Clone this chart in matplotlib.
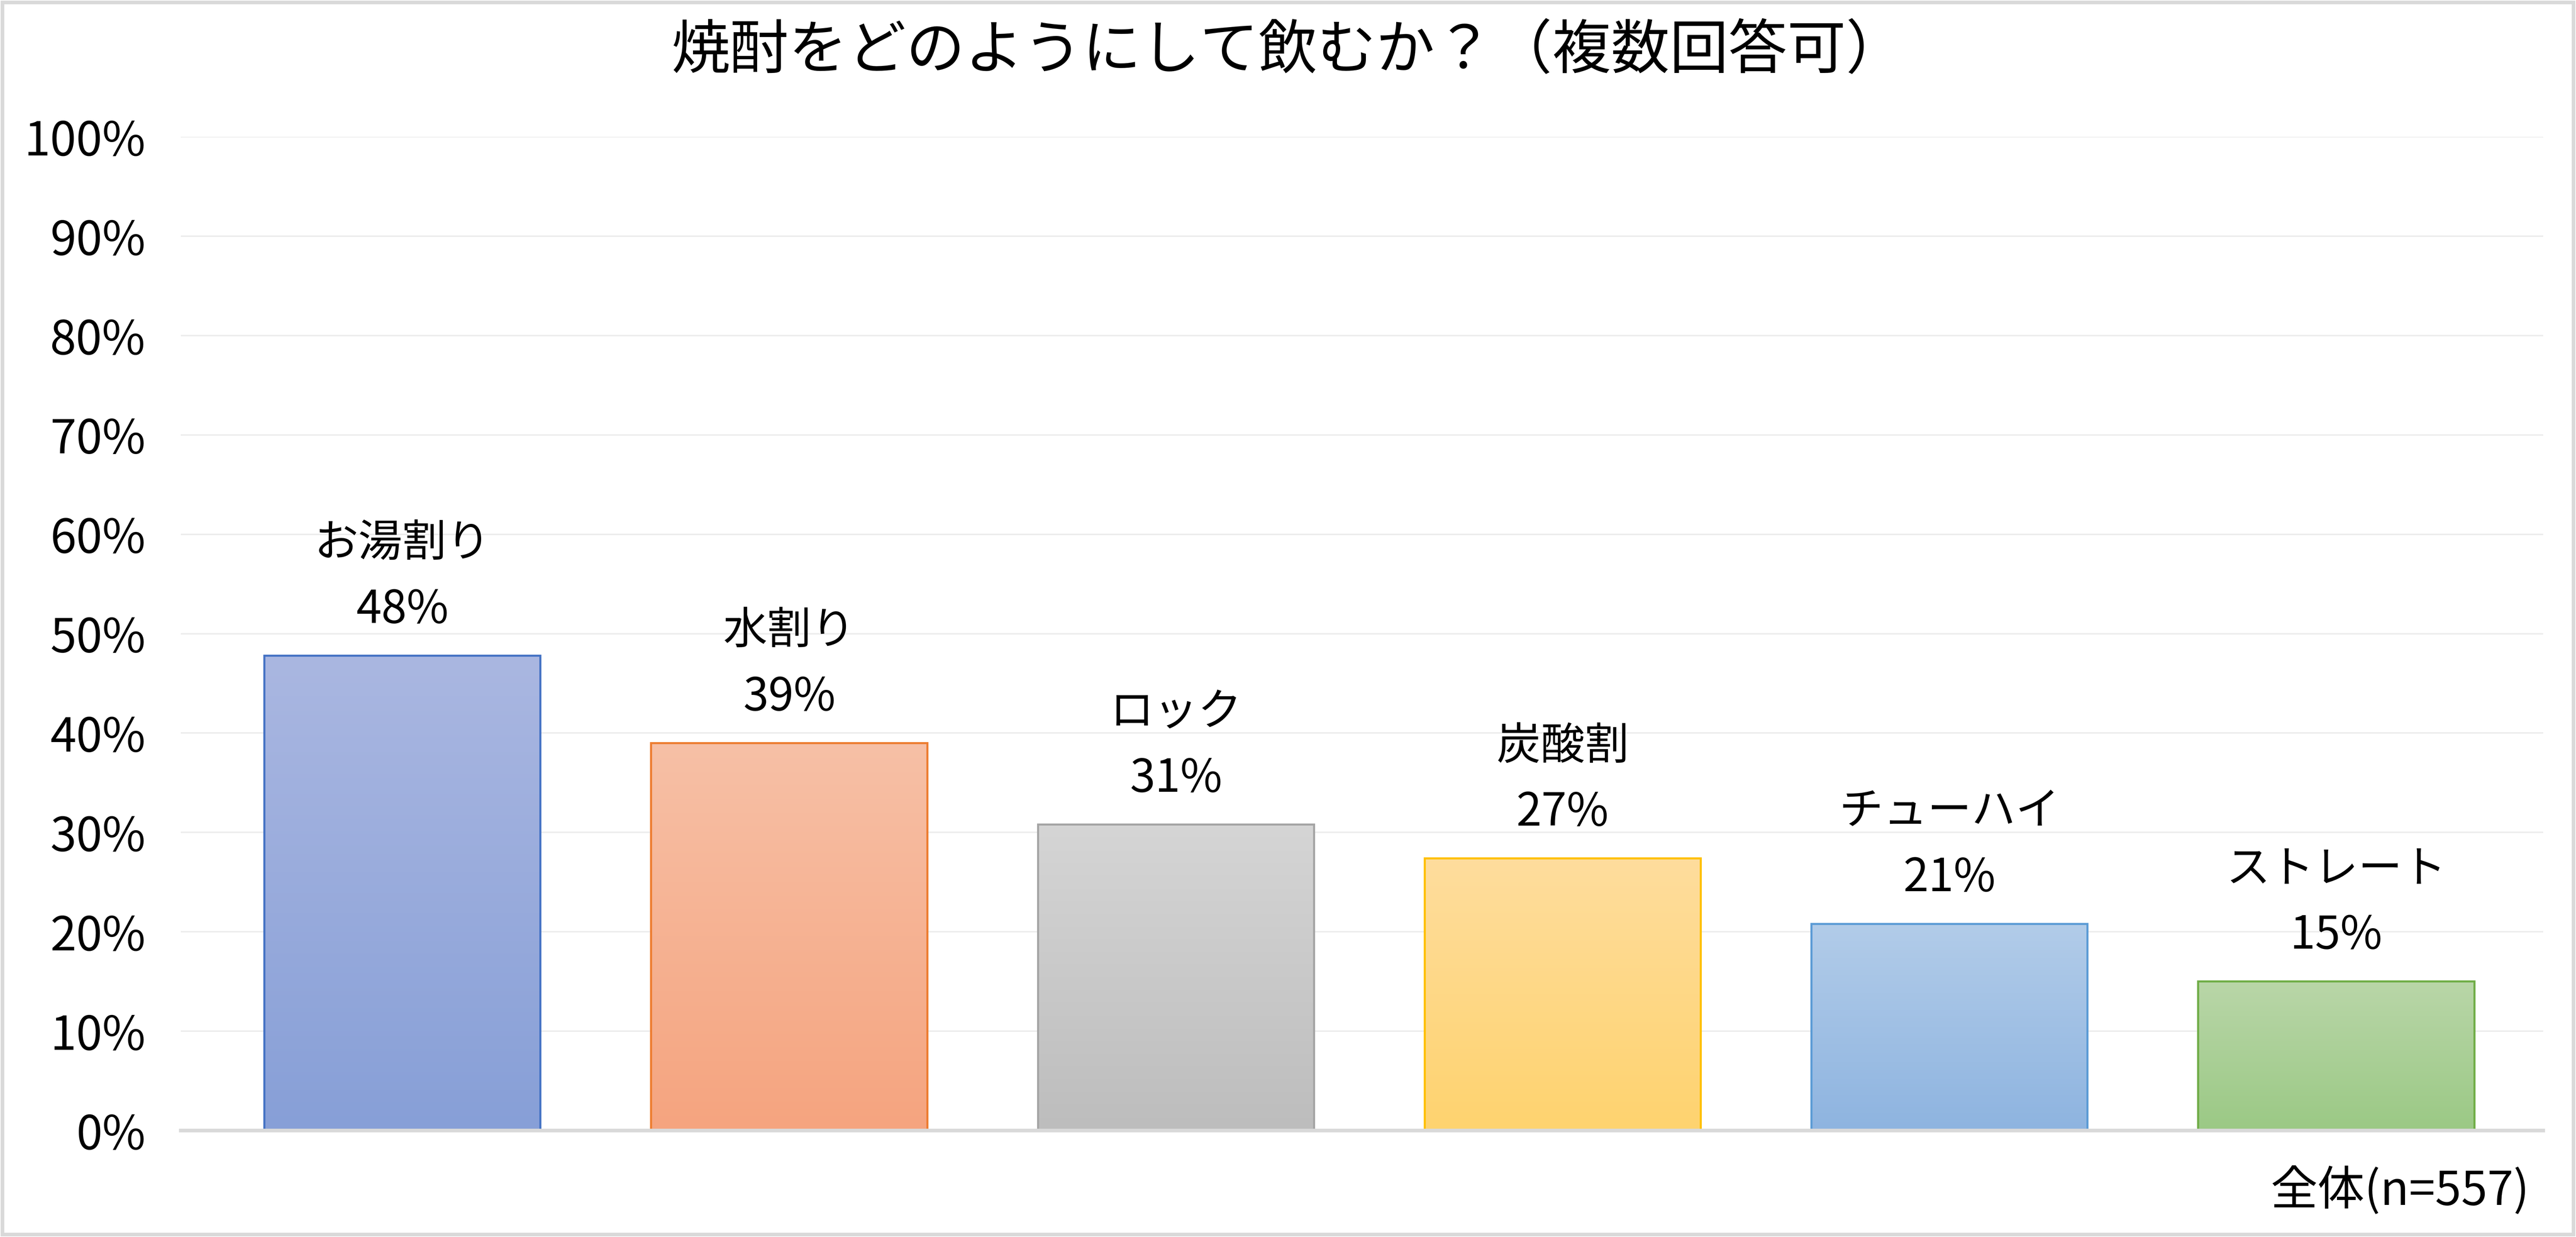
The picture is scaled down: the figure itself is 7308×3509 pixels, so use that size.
import matplotlib
matplotlib.use("Agg")
import matplotlib.pyplot as plt
import matplotlib.colors as mcolors
import numpy as np

plt.rcParams['font.family'] = ['Noto Sans CJK JP', 'DejaVu Sans']

# data
categories = ["お湯割り", "水割り", "ロック", "炭酸割", "チューハイ", "ストレート"]
values = [47.8, 39.0, 30.8, 27.4, 20.8, 15.0]
labels = ["48%", "39%", "31%", "27%", "21%", "15%"]
top_colors = ["#AAB7E1", "#F7C0A6", "#D5D5D5", "#FEDD9D", "#B2CCE9", "#B9D6A8"]
bottom_colors = ["#879FD7", "#F5A47F", "#BDBDBD", "#FED36F", "#8EB4E0", "#9BC985"]
edge_colors = ["#4472C4", "#ED7D31", "#A5A5A5", "#FFC000", "#5B9BD5", "#70AD47"]
yticks = np.arange(0, 101, 10)
title = "焼酎をどのようにして飲むか？（複数回答可）"
note = "全体(n=557)"

W, H, DPI = 7308, 3509, 300
fig = plt.figure(figsize=(W / DPI, H / DPI), dpi=DPI)
ax = fig.add_axes([513 / W, 1 - 3207 / H, (7215 - 513) / W, (3207 - 388) / H])

x = np.arange(len(categories))
bars = ax.bar(x, values, width=0.714, color="none", edgecolor=edge_colors,
              linewidth=1.4, zorder=3)

# vertical gradient inside each bar
for bar, c0, c1 in zip(bars, top_colors, bottom_colors):
    cmap = mcolors.LinearSegmentedColormap.from_list("g", [c1, c0])
    grad = np.linspace(0, 1, 256).reshape(-1, 1)
    x0, y0 = bar.get_x(), bar.get_y()
    im = ax.imshow(grad, cmap=cmap, aspect="auto", origin="lower",
                   extent=[x0, x0 + bar.get_width(), y0, y0 + bar.get_height()],
                   zorder=2)
    im.set_clip_path(bar)

for xi, v, cat, lab in zip(x, values, categories, labels):
    ax.annotate(lab, (xi, v), xytext=(0, 31), textcoords="offset points",
                ha="center", va="center", fontsize=31)
    ax.annotate(cat, (xi, v), xytext=(0, 76), textcoords="offset points",
                ha="center", va="center", fontsize=30)

ax.set_xlim(-0.573, 5.535)
ax.set_ylim(0, 100)
ax.set_yticks(yticks)
ax.set_yticklabels([f"{t}%" for t in yticks], fontsize=32)
ax.set_xticks([])
ax.tick_params(axis="y", length=0, pad=24)
ax.grid(axis="y", color="#ECECEC", linewidth=1.0, zorder=0)
for s in ["top", "right", "left"]:
    ax.spines[s].set_visible(False)
ax.spines["bottom"].set_color("#D9D9D9")
ax.spines["bottom"].set_linewidth(2.5)
ax.spines["bottom"].set_zorder(4)

fig.text(0.5, 1 - 147 / H, title, ha="center", va="center", fontsize=40)
fig.text(7175 / W, 1 - 3379 / H, note, ha="right", va="center", fontsize=32)

# thin border round the whole chart
fig.patches.append(plt.Rectangle((0.001, 0.002), 0.998, 0.996, transform=fig.transFigure,
                                 fill=False, edgecolor="#D9D9D9", linewidth=2.5))

fig.savefig("out.png", dpi=DPI)
